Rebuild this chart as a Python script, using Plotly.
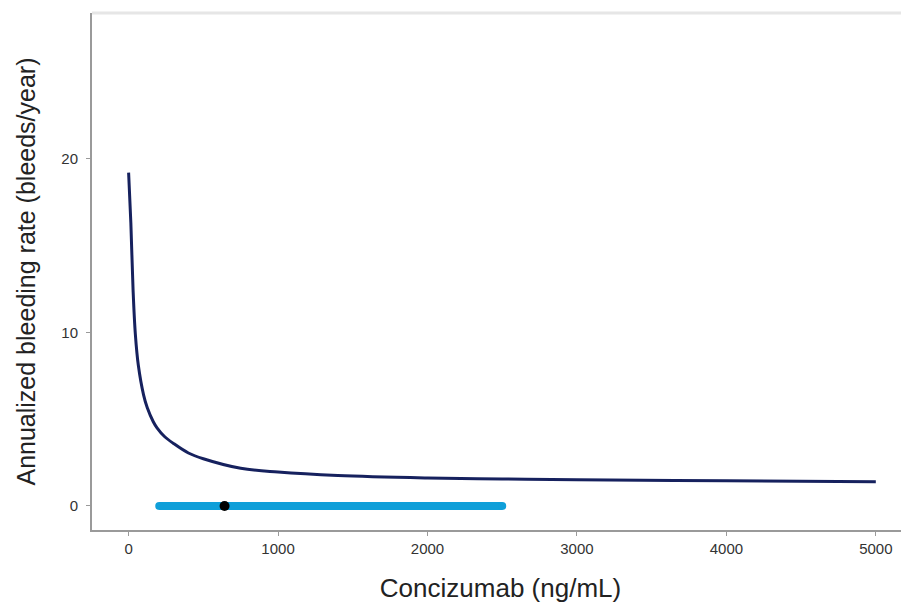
import plotly.graph_objects as go

# Exposure-response curve
conc = [0, 15, 30, 45, 65, 100, 125, 165, 190, 240, 300, 400, 500, 750, 1000, 1400, 2000, 2500, 3000, 4000, 5000]
abr = [19.2, 16.3, 12.4, 9.9, 8.1, 6.4, 5.65, 4.85, 4.5, 4.0, 3.6, 3.05, 2.72, 2.17, 1.95, 1.75, 1.61, 1.55, 1.51, 1.45, 1.40]

# Exposure range and median
range_lo = 205
range_hi = 2500
median_conc = 642
range_y = 0

x_ticks = [0, 1000, 2000, 3000, 4000, 5000]
y_ticks = [0, 10, 20]

fig = go.Figure()

fig.add_trace(go.Scatter(
    x=[range_lo, range_hi], y=[range_y, range_y], mode="lines+markers",
    line=dict(color="#0f9fd9", width=8),
    marker=dict(color="#0f9fd9", size=8),
    hoverinfo="skip", showlegend=False))

fig.add_trace(go.Scatter(
    x=[median_conc], y=[range_y], mode="markers",
    marker=dict(color="black", size=10),
    showlegend=False))

fig.add_trace(go.Scatter(
    x=conc, y=abr, mode="lines",
    line=dict(color="#16215e", width=3, shape="spline", smoothing=1.0),
    showlegend=False))

fig.add_shape(type="line", xref="paper", yref="paper", x0=0, x1=1, y0=1, y1=1,
              line=dict(color="#e6e6e6", width=3))

fig.update_layout(
    width=901, height=595,
    margin=dict(l=84, r=0, t=5, b=73),
    paper_bgcolor="white", plot_bgcolor="white",
    font=dict(family="Liberation Sans, Arial, sans-serif", color="#333333"),
    xaxis=dict(
        range=[-245, 5222], tickvals=x_ticks, ticktext=[str(v) for v in x_ticks],
        showgrid=False, zeroline=False, showline=True, linecolor="#9a9a9a", linewidth=2,
        ticks="outside", ticklen=4, tickcolor="#9a9a9a", tickfont=dict(size=15, color="#333333"),
        title=dict(text="Concizumab (ng/mL)", font=dict(size=26, color="#222222"), standoff=23),
    ),
    yaxis=dict(
        range=[-1.385, 28.39], tickvals=y_ticks, ticktext=[str(v) for v in y_ticks],
        showgrid=False, zeroline=False, showline=True, linecolor="#9a9a9a", linewidth=2,
        ticks="outside", ticklen=4, tickcolor="#9a9a9a", tickfont=dict(size=15, color="#333333"),
        ticklabelstandoff=5,
        title=dict(text="Annualized bleeding rate (bleeds/year)", font=dict(size=25, color="#222222"), standoff=19),
    ),
)

fig.write_html("out.html")
